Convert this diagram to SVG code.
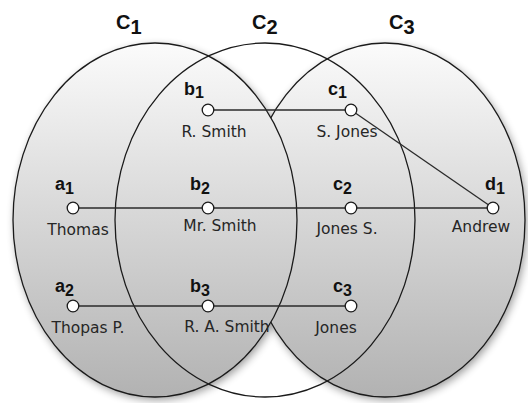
<svg xmlns="http://www.w3.org/2000/svg" width="528" height="403" viewBox="0 0 528 403">
  <defs>
    <linearGradient id="setFill" gradientUnits="userSpaceOnUse" x1="0" y1="43" x2="0" y2="397">
      <stop offset="0" stop-color="#fbfbfb"/>
      <stop offset="0.45" stop-color="#dadada"/>
      <stop offset="1" stop-color="#b2b2b2"/>
    </linearGradient>
    <filter id="shadow" x="-20%" y="-20%" width="140%" height="140%">
      <feGaussianBlur stdDeviation="4"/>
    </filter>
  </defs>
  <style>
    .set { stroke: #1a1a1a; stroke-width: 1.3; }
    .setLabel { font-family: "Liberation Sans", Arial, sans-serif; font-weight: bold; font-size: 20px; fill: #111; }
    .nodeLabel { font-family: "Liberation Sans", Arial, sans-serif; font-weight: bold; font-size: 18px; fill: #111; }
    .sub { font-size: 16px; }
    .name { font-family: "DejaVu Sans", "Liberation Sans", sans-serif; font-size: 15.5px; fill: #262626; text-anchor: middle; }
    .dot { fill: #ffffff; stroke: #1a1a1a; stroke-width: 1.3; }
    .edge { stroke: #2a2a2a; stroke-width: 1.3; fill: none; }
  </style>

  <rect width="528" height="403" fill="#ffffff"/>

  <!-- soft shadows under the filled sets -->
  <g id="shadows" fill="#000" opacity="0.4" filter="url(#shadow)">
    <ellipse cx="387" cy="223" rx="140" ry="177"/>
    <ellipse cx="157" cy="223" rx="142" ry="177"/>
  </g>

  <!-- set C3 (drawn first, C1 overlaps it) -->
  <g id="C3">
    <ellipse class="set" cx="385" cy="220" rx="140" ry="177" fill="url(#setFill)"/>
    <text class="setLabel" x="389" y="29">C<tspan dy="5">3</tspan></text>
  </g>

  <!-- set C1 -->
  <g id="C1">
    <ellipse class="set" cx="155" cy="220" rx="142" ry="177" fill="url(#setFill)"/>
    <text class="setLabel" x="116" y="29">C<tspan dy="5">1</tspan></text>
  </g>

  <!-- set C2: outline only -->
  <g id="C2">
    <ellipse class="set" cx="265" cy="220" rx="150" ry="177" fill="none"/>
    <text class="setLabel" x="252" y="29">C<tspan dy="5">2</tspan></text>
  </g>

  <!-- connectors -->
  <g id="connectors">
    <line class="edge" x1="208" y1="110" x2="351" y2="110"/>
    <line class="edge" x1="351" y1="110" x2="493" y2="208"/>
    <line class="edge" x1="73" y1="208" x2="493" y2="208"/>
    <line class="edge" x1="73" y1="306" x2="351" y2="306"/>
  </g>

  <!-- nodes -->
  <g id="b1">
    <circle class="dot" cx="208" cy="110" r="5.8"/>
    <text class="nodeLabel" x="184" y="95">b<tspan class="sub" dy="3">1</tspan></text>
    <text class="name" x="214" y="137">R. Smith</text>
  </g>
  <g id="c1">
    <circle class="dot" cx="351" cy="110" r="5.8"/>
    <text class="nodeLabel" x="328" y="95">c<tspan class="sub" dy="3">1</tspan></text>
    <text class="name" x="347" y="137">S. Jones</text>
  </g>
  <g id="a1">
    <circle class="dot" cx="73" cy="208" r="5.8"/>
    <text class="nodeLabel" x="55" y="190">a<tspan class="sub" dy="4">1</tspan></text>
    <text class="name" x="78" y="235">Thomas</text>
  </g>
  <g id="b2">
    <circle class="dot" cx="208" cy="208" r="5.8"/>
    <text class="nodeLabel" x="190" y="190">b<tspan class="sub" dy="4">2</tspan></text>
    <text class="name" x="220" y="231">Mr. Smith</text>
  </g>
  <g id="c2">
    <circle class="dot" cx="351" cy="208" r="5.8"/>
    <text class="nodeLabel" x="333" y="190">c<tspan class="sub" dy="4">2</tspan></text>
    <text class="name" x="347" y="234">Jones S.</text>
  </g>
  <g id="d1">
    <circle class="dot" cx="493" cy="208" r="5.8"/>
    <text class="nodeLabel" x="485" y="190">d<tspan class="sub" dy="4">1</tspan></text>
    <text class="name" x="481" y="232">Andrew</text>
  </g>
  <g id="a2">
    <circle class="dot" cx="73" cy="306" r="5.8"/>
    <text class="nodeLabel" x="55" y="292">a<tspan class="sub" dy="4">2</tspan></text>
    <text class="name" x="88" y="333">Thopas P.</text>
  </g>
  <g id="b3">
    <circle class="dot" cx="208" cy="306" r="5.8"/>
    <text class="nodeLabel" x="190" y="292">b<tspan class="sub" dy="4">3</tspan></text>
    <text class="name" x="227" y="332">R. A. Smith</text>
  </g>
  <g id="c3">
    <circle class="dot" cx="351" cy="306" r="5.8"/>
    <text class="nodeLabel" x="333" y="292">c<tspan class="sub" dy="4">3</tspan></text>
    <text class="name" x="336" y="333">Jones</text>
  </g>
</svg>
